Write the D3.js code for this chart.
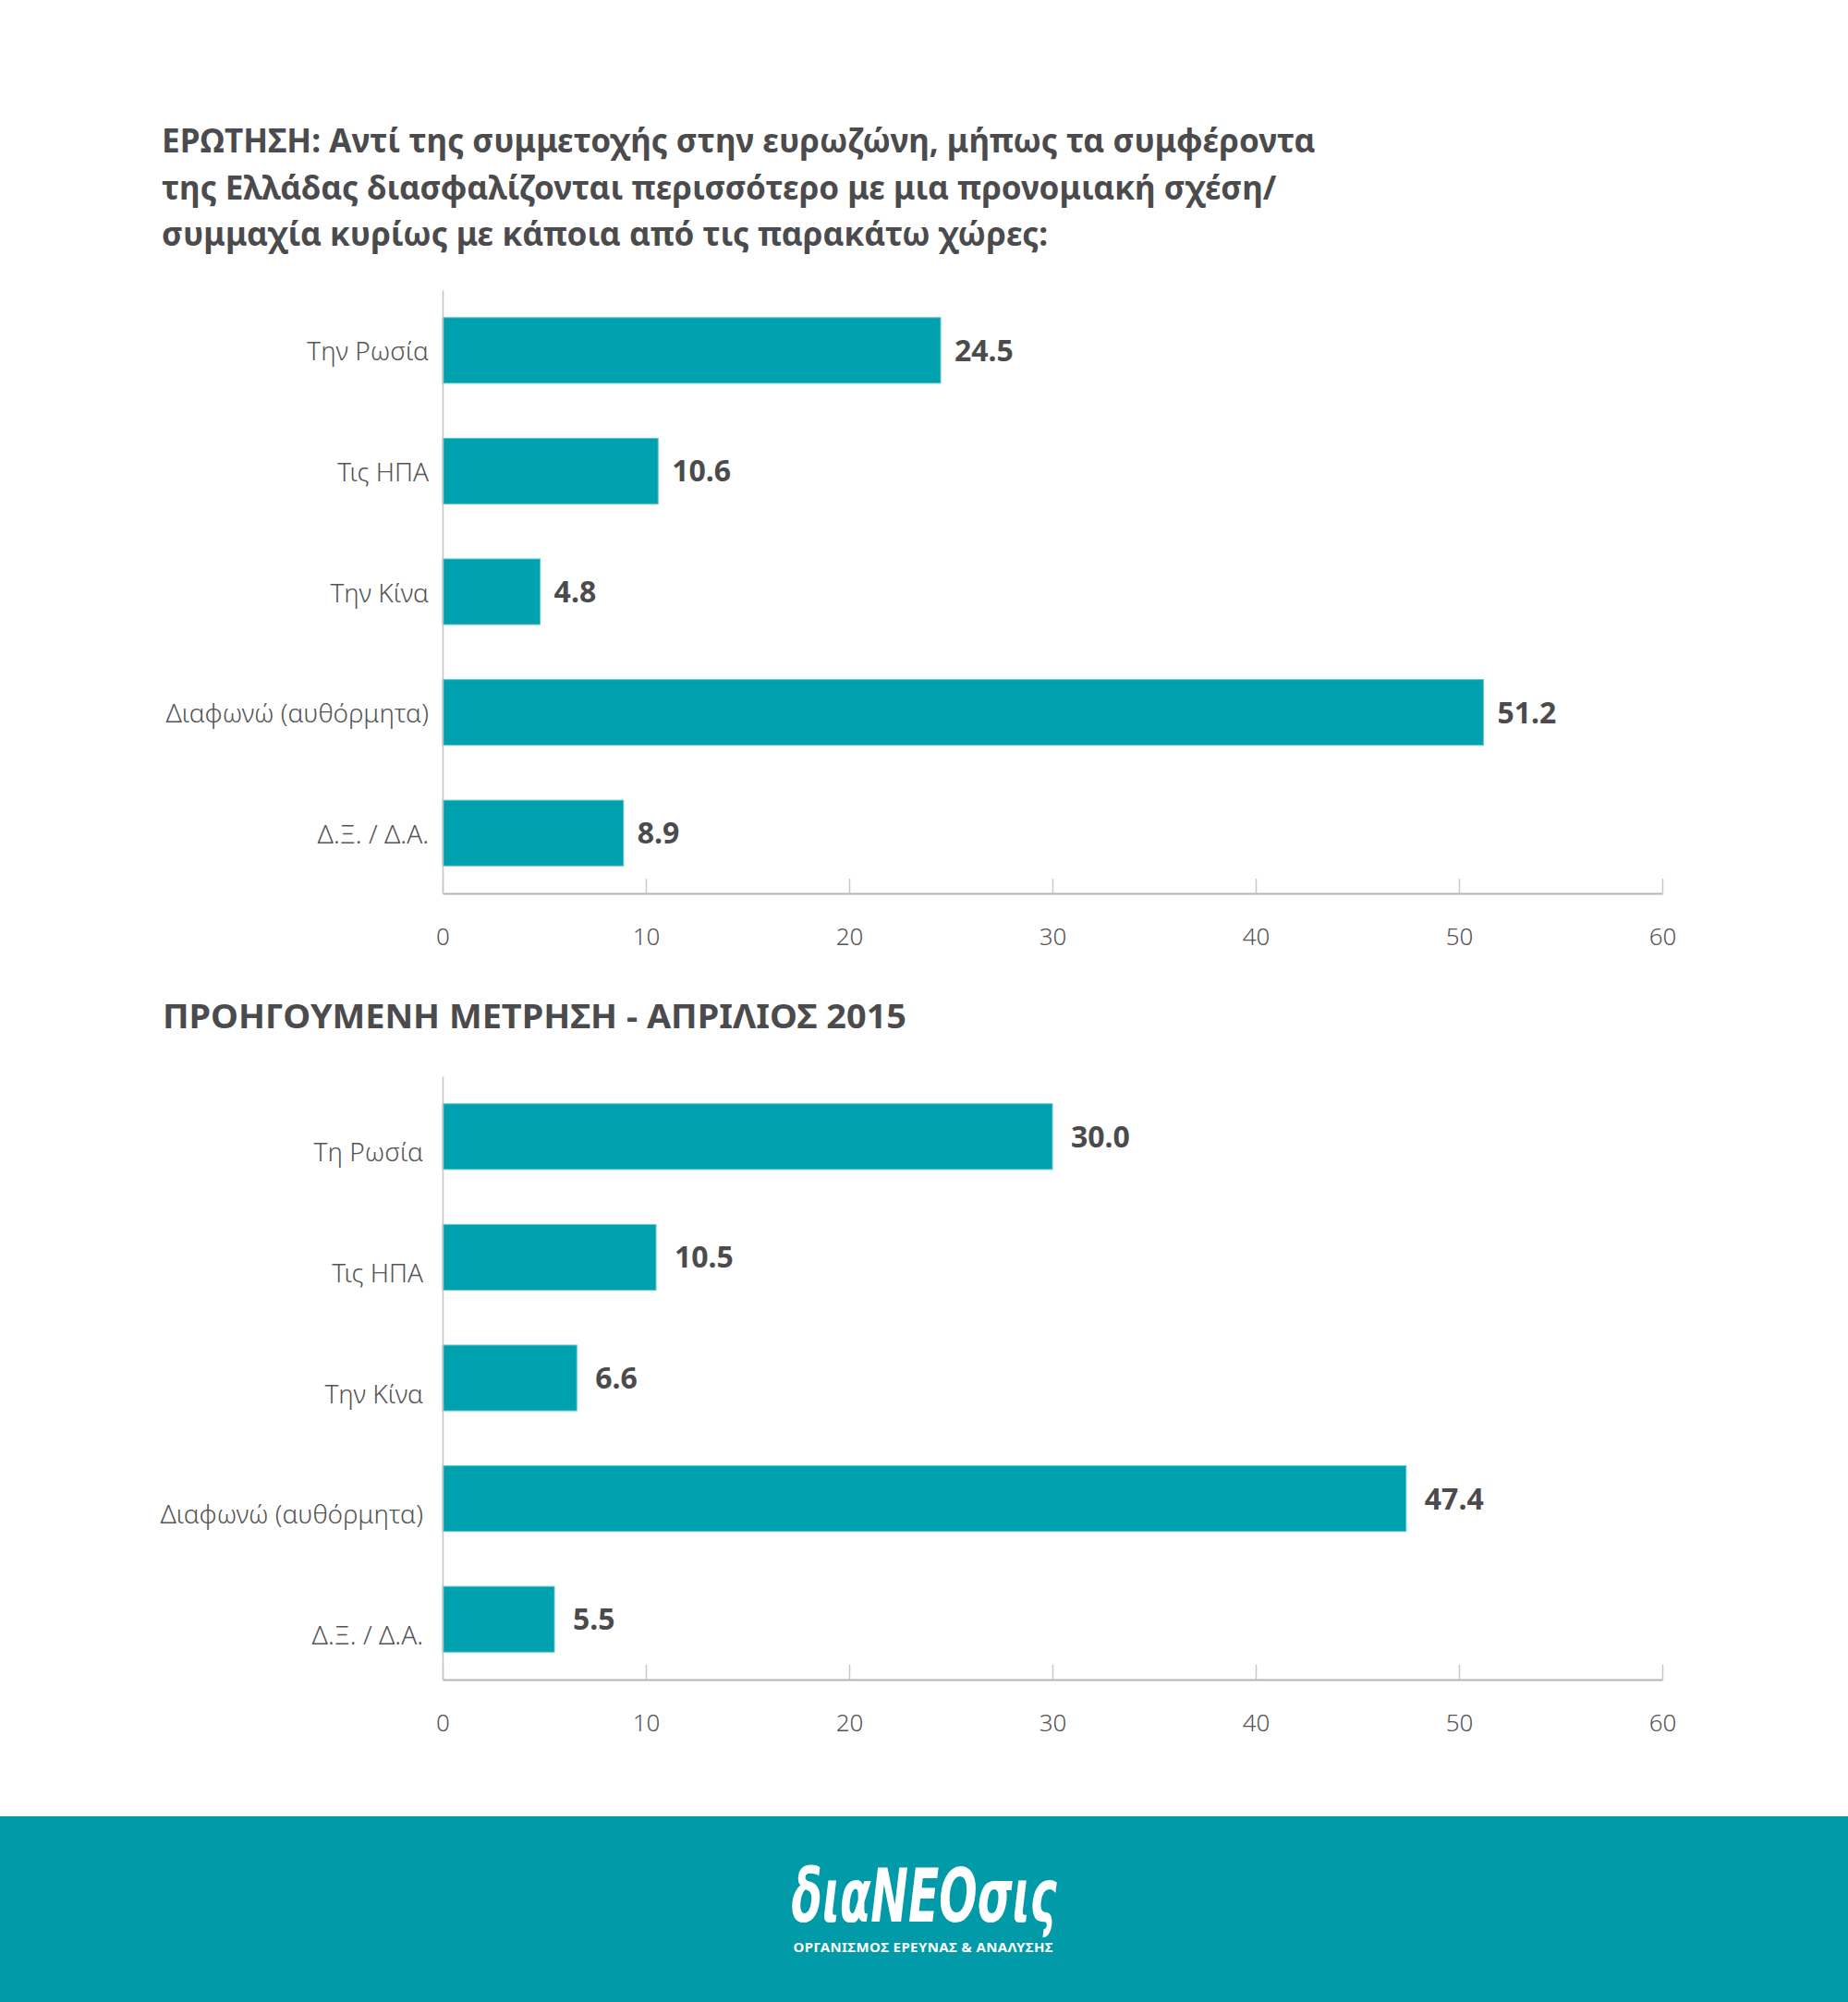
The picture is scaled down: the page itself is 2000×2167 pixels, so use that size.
<!DOCTYPE html>
<html><head><meta charset="utf-8">
<script src="https://cdn.jsdelivr.net/npm/d3@7"></script>
<style>
html,body{margin:0;padding:0;background:#fff;}
svg{display:block;}
</style></head>
<body>
<script>
const titleLines = [
  "ΕΡΩΤΗΣΗ: Αντί της συμμετοχής στην ευρωζώνη, μήπως τα συμφέροντα",
  "της Ελλάδας διασφαλίζονται περισσότερο με μια προνομιακή σχέση/",
  "συμμαχία κυρίως με κάποια από τις παρακάτω χώρες:"
];
const subTitle = "ΠΡΟΗΓΟΥΜΕΝΗ ΜΕΤΡΗΣΗ - ΑΠΡΙΛΙΟΣ 2015";
const categories1 = ["Την Ρωσία", "Τις ΗΠΑ", "Την Κίνα", "Διαφωνώ (αυθόρμητα)", "Δ.Ξ. / Δ.Α."];
const values1 = [24.5, 10.6, 4.8, 51.2, 8.9];
const categories2 = ["Τη Ρωσία", "Τις ΗΠΑ", "Την Κίνα", "Διαφωνώ (αυθόρμητα)", "Δ.Ξ. / Δ.Α."];
const values2 = [30.0, 10.5, 6.6, 47.4, 5.5];
const tickValues = [0, 10, 20, 30, 40, 50, 60];
const logoText = "διαNEOσις";
const logoSub = "ΟΡΓΑΝΙΣΜΟΣ ΕΡΕΥΝΑΣ & ΑΝΑΛΥΣΗΣ";

const W = 2000, H = 2167;
const TEXT = "#4b4b4d", BAR = "#00a1ae", FOOT = "#019aa8";
const FONT = "'Noto Sans', 'Open Sans', sans-serif";

const svg = d3.select("body").append("svg").attr("width", W).attr("height", H);
svg.append("rect").attr("width", W).attr("height", H).attr("fill", "#fff");

// Title
const tg = svg.append("g");
const titleTexts = tg.selectAll("text").data(titleLines).join("text")
  .attr("x", 175).attr("y", (d, i) => [165, 216, 266][i])
  .attr("font-family", FONT).attr("font-weight", 700).attr("font-size", 31)
  .attr("fill", TEXT).text(d => d);
const w0 = titleTexts.node().getComputedTextLength();
const fs = 31 * 1249 / w0;
titleTexts.attr("font-size", fs);

svg.append("text").attr("x", 176).attr("y", 1113)
  .attr("font-family", FONT).attr("font-weight", 700).attr("font-size", fs + 1)
  .attr("fill", TEXT)
  .attr("textLength", 805).attr("lengthAdjust", "spacingAndGlyphs")
  .text(subTitle);

const x = d3.scaleLinear().domain([0, 60]).range([479, 1799]);

function drawChart(cats, vals, top, bottom, labelPad, labelShift, valGap) {
  const y = d3.scaleBand().domain(cats).range([top, bottom])
    .paddingInner(0.456).paddingOuter(0.228);
  const g = svg.append("g");
  g.selectAll("rect.bar").data(cats).join("rect").attr("class", "bar")
    .attr("x", x(0)).attr("y", d => y(d))
    .attr("width", (d, i) => x(vals[i]) - x(0))
    .attr("height", y.bandwidth())
    .attr("fill", BAR).attr("stroke", "#5cc6cf").attr("stroke-width", 1);
  g.selectAll("text.val").data(cats).join("text").attr("class", "val")
    .attr("x", (d, i) => x(vals[i]) + valGap)
    .attr("y", d => y(d) + y.bandwidth() / 2)
    .attr("dy", "0.36em")
    .attr("font-family", FONT).attr("font-weight", 700).attr("font-size", 32)
    .attr("fill", TEXT).text((d, i) => vals[i].toFixed(1));
  const xa = g.append("g").attr("transform", `translate(0,${bottom})`)
    .call(d3.axisBottom(x).tickValues(tickValues).tickSizeInner(-16).tickSizeOuter(0).tickPadding(38));
  xa.select(".domain").attr("stroke", "#b5b5b5").attr("stroke-width", 2);
  xa.selectAll(".tick line").attr("stroke", "#c9c9c9").attr("stroke-width", 1.5);
  xa.selectAll(".tick text").attr("font-family", FONT).attr("font-weight", 300)
    .attr("font-size", 26).attr("fill", "#555");
  const ya = g.append("g").attr("transform", `translate(${x(0)},0)`)
    .call(d3.axisLeft(y).tickSize(0).tickPadding(labelPad));
  ya.select(".domain").attr("stroke", "#c4c4c4").attr("stroke-width", 1.5);
  ya.selectAll(".tick text").attr("font-family", FONT).attr("font-weight", 300)
    .attr("font-size", 28).attr("fill", "#555")
    .attr("dy", "0.36em").attr("transform", `translate(0,${labelShift})`);
}

drawChart(categories1, values1, 314, 967, 15, 1, 15);
drawChart(categories2, values2, 1165, 1818, 21, 17, 20);

// footer
svg.append("rect").attr("x", 0).attr("y", 1966).attr("width", W).attr("height", H - 1966).attr("fill", FOOT);
svg.append("text").attr("x", 1000).attr("y", 2080).attr("text-anchor", "middle")
  .attr("font-family", "'DejaVu Sans', sans-serif").attr("font-style", "italic").attr("font-weight", 700)
  .attr("font-size", 80).attr("fill", "#fff")
  .attr("textLength", 287).attr("lengthAdjust", "spacingAndGlyphs")
  .text(logoText);
svg.append("text").attr("x", 1000).attr("y", 2113).attr("text-anchor", "middle")
  .attr("font-family", FONT).attr("font-weight", 700).attr("font-size", 15)
  .attr("letter-spacing", 2).attr("fill", "#fff")
  .attr("textLength", 283).attr("lengthAdjust", "spacing")
  .text(logoSub);
</script>
</body></html>
